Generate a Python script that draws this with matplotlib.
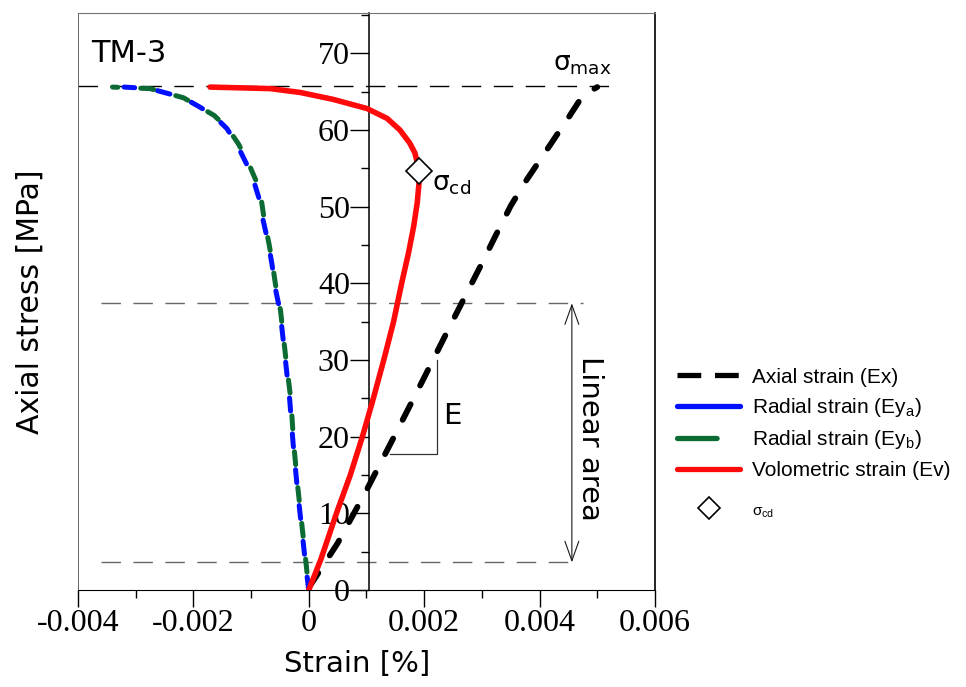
import matplotlib
matplotlib.use('Agg')
import matplotlib.pyplot as plt
import matplotlib.ticker as ticker
from matplotlib.lines import Line2D

# values (strain, axial stress in MPa)
axial_strain = [0.0, 0.0005, 0.0010, 0.0015, 0.0020, 0.0025, 0.0030, 0.00325,
                0.0035, 0.00375, 0.0040, 0.00425, 0.0045, 0.00475, 0.0050]
axial_stress = [0.3, 6.1, 13.0, 20.3, 27.7, 35.2, 42.6, 46.4, 50.1, 53.2,
                56.0, 58.8, 61.6, 64.5, 65.6]

radial_a_strain = [0.0, -0.00005, -0.0002, -0.00027, -0.00033, -0.00041,
                   -0.0005, -0.00057, -0.00064, -0.0007, -0.00079, -0.00085,
                   -0.00096, -0.00108, -0.00125, -0.00142, -0.00165, -0.00189,
                   -0.00217, -0.00246, -0.00275, -0.0032]
radial_a_stress = [0.0, 3.0, 13.4, 19.0, 24.8, 30.4, 36.5, 39.0, 42.6, 45.2,
                   48.2, 50.8, 53.5, 55.6, 58.2, 60.2, 61.9, 63.0, 64.2, 64.8,
                   65.4, 65.6]

radial_b_strain = [0.0, -0.00004, -0.00019, -0.00026, -0.00031, -0.0004,
                   -0.00049, -0.00056, -0.00063, -0.00069, -0.00077, -0.00082,
                   -0.00092, -0.00104, -0.00122, -0.0014, -0.00164, -0.00189,
                   -0.00217, -0.00246, -0.00275, -0.0034]
radial_b_stress = [0.0, 3.0, 13.4, 19.0, 24.8, 30.4, 36.5, 39.0, 42.6, 45.2,
                   48.2, 50.8, 53.5, 55.6, 58.2, 60.2, 61.9, 63.0, 64.2, 64.8,
                   65.4, 65.6]

vol_strain = [0.0, 0.00021, 0.00048, 0.00072, 0.00093, 0.00112, 0.0013,
              0.00147, 0.00161, 0.00173, 0.00182, 0.00188, 0.00191, 0.0019,
              0.00184, 0.00175, 0.00158, 0.00136, 0.00101, 0.00042, -0.00015,
              -0.00067, -0.00171]
vol_stress = [0.0, 4.0, 10.0, 15.0, 20.0, 25.0, 30.0, 35.0, 40.0, 44.0, 47.5,
              50.5, 53.0, 55.2, 57.0, 58.3, 60.0, 61.5, 62.8, 64.0, 64.9, 65.4,
              65.6]

sigma_cd = (0.00191, 54.6)

# reference levels: stress and strain extent
ref_levels = [65.7, 37.4, 3.6]
ref_spans = [(-0.004, 0.0054), (-0.0036, 0.00475), (-0.0036, 0.0047)]
ref_colors = ['k', '0.4', '0.4']

linear_area = (3.6, 37.4)
linear_x = 0.00456

# modulus triangle
e_tri_x = [0.00141, 0.00222, 0.00222]
e_tri_y = [17.7, 17.7, 30.0]

xtick_vals = [-0.004, -0.002, 0.0, 0.002, 0.004, 0.006]
xtick_labels = ['-0.004', '-0.002', '0', '0.002', '0.004', '0.006']
ytick_vals = [0, 10, 20, 30, 40, 50, 60, 70]

comic = 'DejaVu Sans'
serif = 'Liberation Serif'

fig = plt.figure(figsize=(9.66, 6.87), dpi=100)
ax = fig.add_axes([0.0807, 0.1412, 0.5973, 0.8403])
ax.set_xlim(-0.004, 0.006)
ax.set_ylim(0, 75.3)

# reference dashed lines
for lev, (x0, x1), c in zip(ref_levels, ref_spans, ref_colors):
    ax.plot([x0, x1], [lev, lev], color=c, lw=1, linestyle=(0, (14, 9)), zorder=1)

ax.plot(e_tri_x, e_tri_y, color='0.2', lw=0.9, zorder=1)

ax.annotate('', xy=(linear_x, linear_area[1]), xytext=(linear_x, linear_area[0]),
            arrowprops=dict(arrowstyle='<->,head_length=0.7,head_width=0.25',
                            lw=0.8, color='0.1', shrinkA=0, shrinkB=0,
                            mutation_scale=20))

ax.plot(axial_strain, axial_stress, color='k', lw=4.2,
        linestyle=(0, (3, 3.6)), dash_capstyle='round', zorder=3)
ax.plot(radial_a_strain, radial_a_stress, color='#0010ff', lw=3.6,
        linestyle=(0, (2.6, 4.6)), dash_capstyle='round', zorder=3)
ax.plot(radial_b_strain, radial_b_stress, color='#0b6b33', lw=3.6,
        linestyle=(3.6, (2.6, 4.6)), dash_capstyle='round', zorder=4)
ax.plot(vol_strain, vol_stress, color='#ff0a0a', lw=4, zorder=5,
        solid_capstyle='round', solid_joinstyle='round')
ax.plot([sigma_cd[0]], [sigma_cd[1]], marker='D', ms=13, mfc='white',
        mec='k', mew=1.2, linestyle='none', zorder=6)

# texts
ax.text(-0.00377, 71.9, 'TM-3', fontsize=22, family=comic, va='top', ha='left')
ax.text(0.00423, 66.9, r'σ$_{\mathregular{max}}$', fontsize=19, family=comic,
        ha='left', va='bottom')
ax.text(0.00214, 51.2, r'σ$_{\mathregular{cd}}$', fontsize=19, family=comic,
        ha='left', va='bottom')
ax.text(0.00248, 22.7, 'E', fontsize=21, family=comic, ha='center', va='center')
ax.text(0.00487, 19.8, 'Linear area', fontsize=21, family=comic, rotation=-90,
        ha='center', va='center')

# y axis sits inside the box, x axis at the bottom
ax.spines['left'].set_position(('data', 0.00105))
ax.spines['left'].set_linewidth(1.1)
ax.spines['top'].set_color('0.45')
ax.spines['right'].set_linewidth(1.2)
ax.axvline(-0.004, color='0.3', lw=1.2, zorder=2)

ax.set_xticks(xtick_vals)
ax.set_xticklabels(xtick_labels)
ax.xaxis.set_minor_locator(ticker.MultipleLocator(0.001))
ax.set_yticks(ytick_vals)
ax.yaxis.set_minor_locator(ticker.MultipleLocator(5))
ax.tick_params(axis='x', which='major', direction='out', length=12, width=1,
               labelsize=23, pad=2)
ax.tick_params(axis='x', which='minor', direction='out', length=6, width=1)
ax.tick_params(axis='y', which='major', direction='out', length=14, width=1,
               labelsize=23, pad=0)
ax.tick_params(axis='y', which='minor', direction='out', length=6, width=1)
for lbl in ax.get_xticklabels() + ax.get_yticklabels():
    lbl.set_fontfamily(serif)

fig.text(30 / 966, 1 - 302 / 687, 'Axial stress [MPa]', fontsize=21.5,
         family=comic, rotation=90, ha='center', va='center')
fig.text(357 / 966, 1 - 664 / 687, 'Strain [%]', fontsize=21, family=comic,
         ha='center', va='center')

# legend: four lines, then the sigma_cd marker a bit further down
handles = [
    Line2D([], [], color='k', lw=3.8, linestyle=(0, (4.5, 2.6))),
    Line2D([], [], color='#0010ff', lw=3.8, solid_capstyle='round'),
    Line2D([], [], color='#0b6b33', lw=3.8, linestyle=(0, (7.5, 12)),
           dash_capstyle='round'),
    Line2D([], [], color='#ff0a0a', lw=3.8, solid_capstyle='round'),
]
labels = ['Axial strain (Ex)', r'Radial strain (Ey$_{\mathregular{a}}$)',
          r'Radial strain (Ey$_{\mathregular{b}}$)', 'Volometric strain (Ev)']
leg_opts = dict(loc='upper left', frameon=False,
                prop={'family': 'Liberation Sans', 'size': 15},
                handlelength=3.0, handletextpad=0.6, labelspacing=0.45,
                borderpad=0.2)
fig.legend(handles, labels, bbox_to_anchor=(0.686, 0.486), **leg_opts)

cd_handle = Line2D([], [], marker='D', ms=11, mfc='white', mec='k', mew=1.2,
                   linestyle='none')
leg2 = fig.legend([cd_handle], [r'σ$_{\mathregular{cd}}$'],
                  bbox_to_anchor=(0.686, 0.292), **leg_opts)
leg2.get_texts()[0].set_fontsize(11)

fig.savefig('out.png', dpi=100)
